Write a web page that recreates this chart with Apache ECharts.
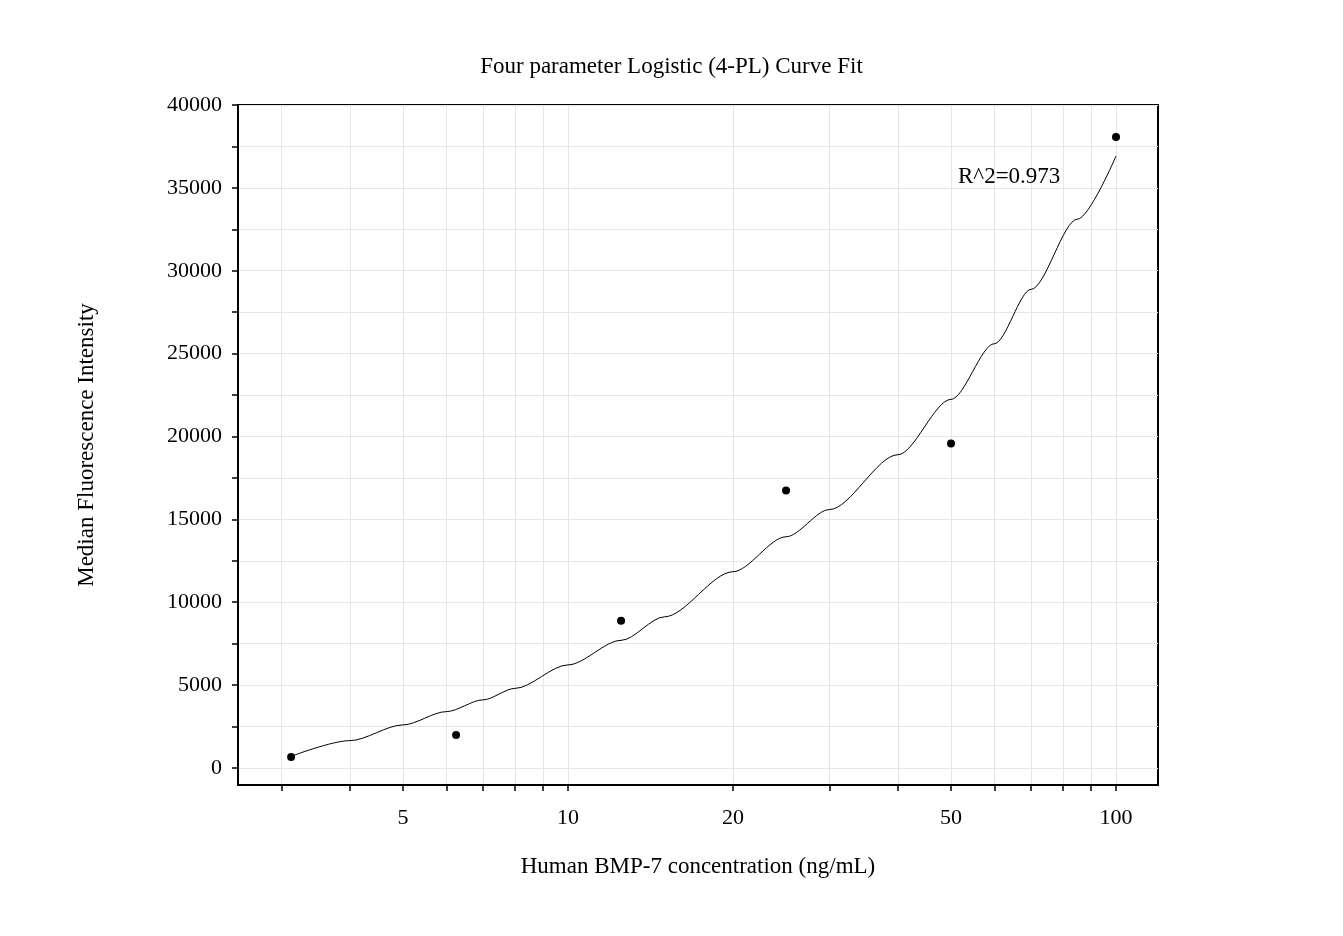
<!DOCTYPE html><html><head><meta charset="utf-8"><script src="https://cdn.jsdelivr.net/npm/echarts@6/dist/echarts.min.js"></script></head><body style="margin:0"><div id="c" style="width:1343px;height:936px"></div><script>
const conc=[3.125,6.25,12.5,25,50,100];
const mfi=[665,1994,8882,16737,19577,38066];
const curveX=[3.125,4,5,6,7,8,10,12.5,15,20,25,30,40,50,60,70,85,100];
const curveY=[700,1650,2600,3400,4110,4800,6220,7700,9120,11840,13950,15590,18900,22240,25600,28880,33110,36920];
const xLabels=[5,10,20,50,100];
const xTicks=[3,4,5,6,7,8,9,10,20,30,40,50,60,70,80,90,100];
const yLabels=[0,5000,10000,15000,20000,25000,30000,35000,40000];
const yTicks=[0,2500,5000,7500,10000,12500,15000,17500,20000,22500,25000,27500,30000,32500,35000,37500,40000];
const F='Liberation Serif, serif';
const c=echarts.init(document.getElementById('c'));
c.setOption({
title:[{text:'Four parameter Logistic (4-PL) Curve Fit',left:'center',top:50,textStyle:{fontFamily:F,fontSize:23,fontWeight:'normal',color:'#000'}},
{text:'R^2=0.973',left:953,top:160,textStyle:{fontFamily:F,fontSize:23,fontWeight:'normal',color:'#000'}}],
grid:{left:238,right:185,top:105,bottom:151,show:true,borderColor:'#000',borderWidth:2},
xAxis:{type:'log',logBase:10,min:2.5,max:119.3,name:'Human BMP-7 concentration (ng/mL)',nameLocation:'middle',nameGap:70,
nameTextStyle:{fontFamily:F,fontSize:23,color:'#000'},
axisLine:{onZero:false,lineStyle:{color:'#000',width:2}},
axisTick:{customValues:xTicks,length:6,lineStyle:{color:'#000',width:1.5}},
axisLabel:{customValues:xLabels,fontFamily:F,fontSize:22,color:'#000',margin:22},
splitLine:{show:true,lineStyle:{color:'#e6e6e6'}}},
yAxis:{type:'value',min:-1027,max:40000,name:'Median Fluorescence Intensity',nameLocation:'middle',nameGap:140,
nameTextStyle:{fontFamily:F,fontSize:23,color:'#000'},
axisLine:{show:true,lineStyle:{color:'#000',width:2}},
axisTick:{customValues:yTicks,length:6,lineStyle:{color:'#000',width:1.5}},
axisLabel:{customValues:yLabels,formatter:v=>String(v),fontFamily:F,fontSize:22,color:'#000',margin:16},
splitLine:{show:true,lineStyle:{color:'#e6e6e6'}}},
series:[
{type:'line',data:curveX.map((x,i)=>[x,curveY[i]]),smooth:0.3,smoothMonotone:'x',showSymbol:false,lineStyle:{color:'#000',width:1},silent:true},
{type:'scatter',data:conc.map((x,i)=>[x,mfi[i]]),symbolSize:8,itemStyle:{color:'#000',opacity:1}}
]});
</script></body></html>
